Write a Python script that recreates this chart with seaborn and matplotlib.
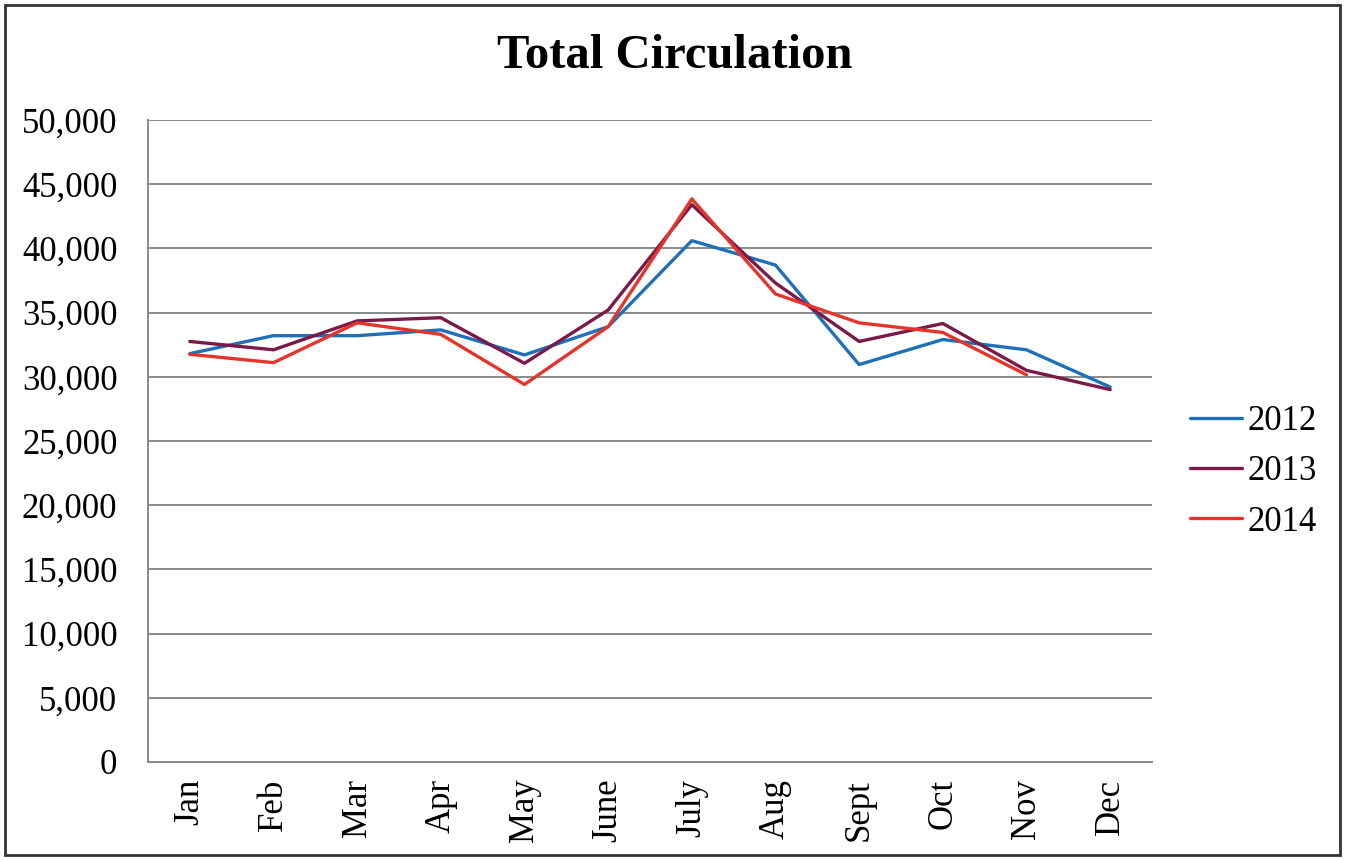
import numpy as np
import pandas as pd
import matplotlib.pyplot as plt
import seaborn as sns
from matplotlib.patches import Rectangle

# Data
months = ['Jan', 'Feb', 'Mar', 'Apr', 'May', 'June', 'July', 'Aug', 'Sept', 'Oct', 'Nov', 'Dec']
circ_2012 = [31800, 33200, 33200, 33650, 31700, 33900, 40600, 38700, 30950, 32900, 32100, 29200]
circ_2013 = [32750, 32100, 34350, 34600, 31050, 35200, 43400, 37300, 32750, 34150, 30500, 29000]
circ_2014 = [31750, 31100, 34200, 33300, 29400, 33900, 43850, 36450, 34200, 33450, 30150, np.nan]
years = ['2012', '2013', '2014']
colors = ['#1f70b8', '#7a1a48', '#e5352b']

rows = []
for yr, vals in zip(years, [circ_2012, circ_2013, circ_2014]):
    for m, v in zip(months, vals):
        rows.append({'Month': m, 'Circulation': v, 'Year': yr})
df = pd.DataFrame(rows).dropna()

sns.set_style('white')
plt.rcParams['font.family'] = ['Liberation Serif', 'DejaVu Serif']
plt.rcParams['text.color'] = 'black'
plt.rcParams['xtick.labelcolor'] = 'black'
plt.rcParams['ytick.labelcolor'] = 'black'

fig = plt.figure(figsize=(13.45, 8.6), dpi=100)
ax = fig.add_axes([0.110, 0.114, 0.7465, 0.7465])

sns.lineplot(data=df, x='Month', y='Circulation', hue='Year', hue_order=years,
             palette=colors, linewidth=2.4, sort=False, ax=ax)

ax.set_xlim(-0.5, 11.5)
ax.set_ylim(0, 50000)
ax.set_yticks(range(0, 50001, 5000))
ax.set_yticklabels([f'{v:,}' for v in range(0, 50001, 5000)], fontsize=25)
ax.set_xticks(range(len(months)))
ax.set_xticklabels(months, rotation=90, fontsize=25)
ax.set_xlabel('')
ax.set_ylabel('')
ax.yaxis.grid(True, color='#8a8a8a', linewidth=1.4)
ax.set_axisbelow(True)
for s in ['top', 'right']:
    ax.spines[s].set_visible(False)
for s in ['left', 'bottom']:
    ax.spines[s].set_color('#8a8a8a')
    ax.spines[s].set_linewidth(1.4)
ax.tick_params(axis='x', direction='in', length=5, color='#8a8a8a', pad=12)
ax.tick_params(axis='y', length=0, pad=22)

ax.legend(loc='center left', bbox_to_anchor=(1.038, 0.452), frameon=False,
          fontsize=25, handlelength=1.5, handletextpad=0.15, labelspacing=0.5,
          borderpad=0, borderaxespad=0)

fig.text(0.502, 0.935, 'Total Circulation', ha='center', va='center',
         fontsize=35, fontweight='bold')

# outer chart frame
fig.patches.append(Rectangle((0.004, 0.006), 0.992, 0.988, transform=fig.transFigure,
                             fill=False, edgecolor='#333333', linewidth=2))

fig.savefig('out.png', dpi=100)
